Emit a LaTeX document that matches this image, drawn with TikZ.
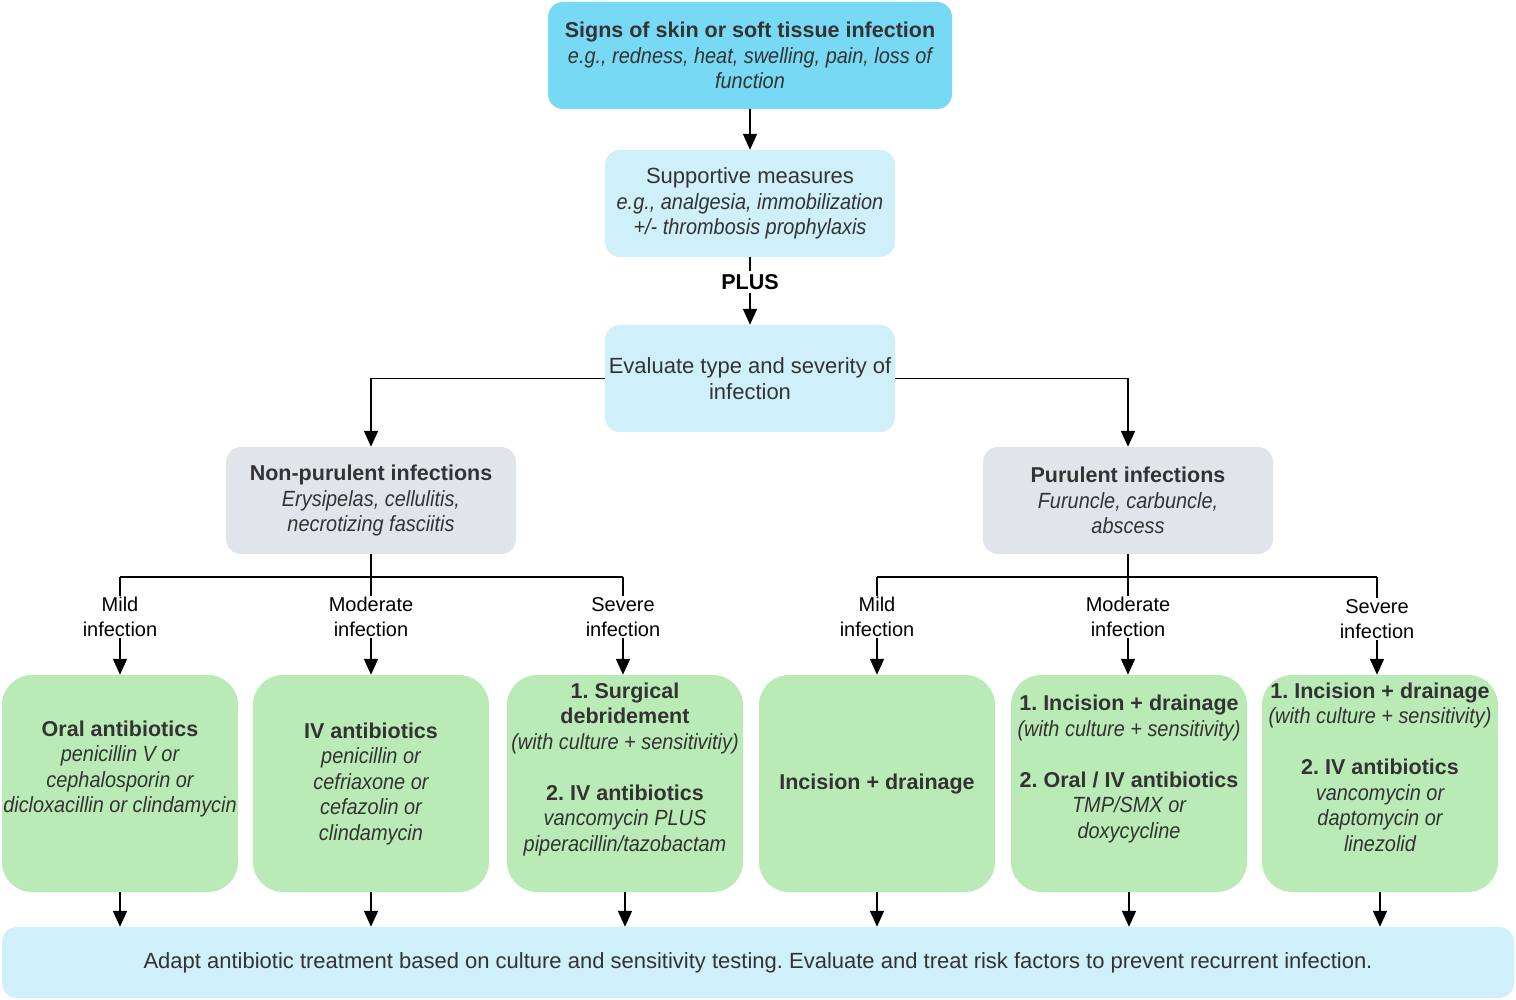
\documentclass[tikz,border=0pt]{standalone}
\usepackage{graphicx}
\usepackage{fontspec}
\setmainfont{Liberation Sans}
\usetikzlibrary{positioning,arrows.meta}
\definecolor{signs}{HTML}{78D9F5}
\definecolor{pale}{HTML}{CFEFFA}
\definecolor{slate}{HTML}{E0E5EC}
\definecolor{treat}{HTML}{BAEBB6}
\definecolor{ink}{HTML}{333333}
\newcommand{\detail}[1]{\scalebox{0.905}[1]{\itshape #1}}
\newcommand{\head}[1]{{\fontsize{21.5}{25.5}\selectfont\bfseries #1}}
\frenchspacing

\begin{document}
\begin{tikzpicture}[x=1pt,y=-1pt,>={Triangle[width=14pt,length=16pt]},
    base/.style={inner sep=0pt, align=center, text=ink, font=\fontsize{22}{25.5}\selectfont},
    topbox/.style={base, fill=signs, rounded corners=15pt, minimum width=404pt, minimum height=107pt},
    palebox/.style={base, fill=pale, rounded corners=15pt, minimum width=290pt, minimum height=107pt},
    typebox/.style={base, fill=slate, rounded corners=15pt, minimum width=290pt, minimum height=107pt},
    treatbox/.style={base, fill=treat, rounded corners=30pt, minimum width=236pt, minimum height=217pt},
    cond/.style={inner sep=1pt, align=center, text=black, font=\fontsize{20}{25.5}\selectfont},
    link/.style={line width=1.6pt}]
  \useasboundingbox (0,0) rectangle (1516,1000);

  \node[topbox] (sign) at (750,55.5) {\head{Signs of skin or soft tissue infection}\\ \detail{e.g., redness, heat, swelling, pain, loss of}\\ \detail{function}};
  \node[palebox] (supp) at (750,203.5) {Supportive measures\\ \detail{e.g., analgesia, immobilization}\\ \detail{+/- thrombosis prophylaxis}};
  \node[base, text=black, inner sep=3pt] (plus) at (750,282) {\head{PLUS}};
  \node[palebox] (eval) at (750,378.5) {Evaluate type and severity of\\ infection};

  \node[typebox] (nonpur) at (371,500.5) {\head{Non-purulent infections}\\ \detail{Erysipelas, cellulitis,}\\ \detail{necrotizing fasciitis}};
  \node[typebox] (pur) at (1128,500.5) {\head{Purulent infections}\\ \detail{Furuncle, carbuncle,}\\ \detail{abscess}};

  % severity levels
  \node[cond] (mildnp) at (120,617) {Mild\\ infection};
  \node[cond] (modnp) at (371,617) {Moderate\\ infection};
  \node[cond] (sevnp) at (623,617) {Severe\\ infection};
  \node[cond] (mildp) at (877,617) {Mild\\ infection};
  \node[cond] (modp) at (1128,617) {Moderate\\ infection};
  \node[cond] (sevp) at (1377,619) {Severe\\ infection};

  % treatments
  \node[treatbox] (oral) at (120,783.5) {\head{Oral antibiotics}\\ \detail{penicillin V or}\\ \detail{cephalosporin or}\\ \detail{dicloxacillin or clindamycin}\\ \strut};
  \node[treatbox] (ivab) at (371,783.5) {\head{IV antibiotics}\\ \detail{penicillin or}\\ \detail{cefriaxone or}\\ \detail{cefazolin or}\\ \detail{clindamycin}};
  \node[treatbox] (surg) at (625,783.5) {\head{1. Surgical}\\ \head{debridement}\\ \detail{(with culture + sensitivitiy)}\\[25.5pt] \head{2. IV antibiotics}\\ \detail{vancomycin PLUS}\\ \detail{piperacillin/tazobactam}\\ \strut};
  \node[treatbox] (incd) at (877,783.5) {\head{Incision + drainage}};
  \node[treatbox] (incm) at (1129,783.5) {\head{1. Incision + drainage}\\ \detail{(with culture + sensitivity)}\\[25.5pt] \head{2. Oral / IV antibiotics}\\ \detail{TMP/SMX or}\\ \detail{doxycycline}\\ \strut};
  \node[treatbox] (incs) at (1380,783.5) {\head{1. Incision + drainage}\\ \detail{(with culture + sensitivity)}\\[25.5pt] \head{2. IV antibiotics}\\ \detail{vancomycin or}\\ \detail{daptomycin or}\\ \detail{linezolid}\\ \strut};

  \node[base, fill=pale, rounded corners=15pt, minimum width=1512pt, minimum height=71pt] (adapt) at (758,962.5) {Adapt antibiotic treatment based on culture and sensitivity testing. Evaluate and treat risk factors to prevent recurrent infection.};

  % connectors
  \draw[link,->] (sign) -- (supp);
  \draw[link] (supp) -- (plus);
  \draw[link,->] (plus) -- (eval);
  \draw[link,->] (eval.west) -| (nonpur.north);
  \draw[link,->] (eval.east) -| (pur.north);

  \coordinate (npj) at (371,577);
  \coordinate (pj) at (1128,577);
  \draw[link] (nonpur) -- (npj);
  \draw[link] (pur) -- (pj);
  \draw[link] (npj -| mildnp) -- (npj -| sevnp);
  \draw[link] (pj -| mildp) -- (pj -| sevp);
  \foreach \lvl in {mildnp,modnp,sevnp}
    \draw[link] (npj -| \lvl) -- (\lvl);
  \foreach \lvl in {mildp,modp,sevp}
    \draw[link] (pj -| \lvl) -- (\lvl);

  \draw[link,->] (mildnp) -- (mildnp |- oral.north);
  \draw[link,->] (modnp) -- (modnp |- ivab.north);
  \draw[link,->] (sevnp) -- (sevnp |- surg.north);
  \draw[link,->] (mildp) -- (mildp |- incd.north);
  \draw[link,->] (modp) -- (modp |- incm.north);
  \draw[link,->] (sevp) -- (sevp |- incs.north);

  \foreach \tr in {oral,ivab,surg,incd,incm,incs}
    \draw[link,->] (\tr) -- (\tr |- adapt.north);
\end{tikzpicture}
\end{document}
